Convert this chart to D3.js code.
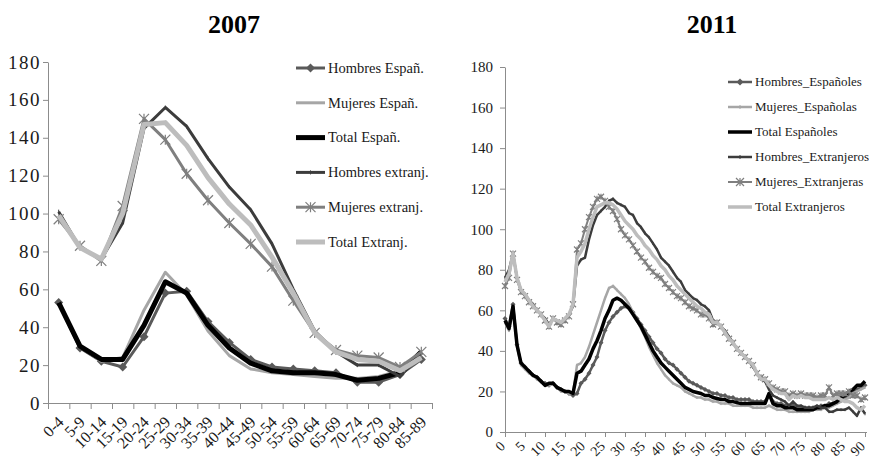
<!DOCTYPE html>
<html>
<head>
<meta charset="utf-8">
<script src="https://cdn.jsdelivr.net/npm/d3@7"></script>
<style>
    body { margin: 0; background: #fff; }
    svg { display: block; }
    svg text { font-family: "Liberation Serif", "Times New Roman", serif; }
    .axis path, .axis line { stroke: #8c8c8c; stroke-width: 1; }
    .axis text { fill: #1a1a1a; }
</style>
</head>
<body>
<svg width="869" height="460"></svg>
<script>

//==========================================================================
// Data, 2007 (age groups).

var ageGroups07 = ['0-4', '5-9', '10-14', '15-19', '20-24', '25-29', '30-34', '35-39', '40-44',
    '45-49', '50-54', '55-59', '60-64', '65-69', '70-74', '75-79', '80-84', '85-89'];

var hombresEsp07  = [53, 29, 22, 19, 35, 58, 59, 43, 32, 23, 19, 18, 17, 16, 11, 11, 15, 23];
var mujeresEsp07  = [53, 30, 22, 24, 49, 69, 57, 38, 25, 18, 16, 15, 14, 13, 13, 14, 17, 24];
var totalEsp07    = [53, 30, 23, 23, 41, 64, 58, 41, 29, 21, 17, 16, 16, 15, 12, 13, 16, 27];
var hombresExt07  = [101, 82, 76, 95, 145, 156, 146, 129, 114, 102, 84, 60, 38, 27, 20, 20, 14, 26];
var mujeresExt07  = [97, 83, 75, 104, 150, 139, 121, 107, 95, 84, 72, 54, 37, 28, 25, 24, 19, 27];
var totalExt07    = [99, 82, 76, 100, 147, 148, 136, 119, 105, 94, 77, 58, 37, 27, 23, 22, 17, 24];

var names07 = ['Hombres Españ.', 'Mujeres Españ.', 'Total Españ.', 'Hombres extranj.', 'Mujeres extranj.', 'Total Extranj.'];

//==========================================================================
// Data, 2011 (single years of age).

var ages11 = [0, 1, 2, 3, 4, 5, 6, 7, 8, 9, 10, 11, 12, 13, 14, 15, 16, 17, 18, 19,
    20, 21, 22, 23, 24, 25, 26, 27, 28, 29, 30, 31, 32, 33, 34, 35, 36, 37, 38, 39,
    40, 41, 42, 43, 44, 45, 46, 47, 48, 49, 50, 51, 52, 53, 54, 55, 56, 57, 58, 59,
    60, 61, 62, 63, 64, 65, 66, 67, 68, 69, 70, 71, 72, 73, 74, 75, 76, 77, 78, 79,
    80, 81, 82, 83, 84, 85, 86, 87, 88, 89, 90];

var hombresEsp11 = [56, 52, 63, 43, 34, 32, 30, 28, 27, 25, 24, 23, 24, 22, 21, 20, 19, 18, 19, 24,
    26, 29, 33, 37, 44, 50, 54, 57, 59, 61, 62, 61, 59, 56, 53, 50, 47, 44, 41, 39,
    36, 34, 33, 31, 29, 27, 25, 24, 23, 22, 21, 20, 19, 19, 18, 18, 17, 17, 16, 16,
    16, 16, 15, 15, 15, 15, 18, 15, 14, 14, 13, 13, 13, 12, 12, 12, 12, 12, 12, 13,
    13, 14, 14, 15, 16, 17, 18, 20, 21, 22, 23];
var mujeresEsp11 = [54, 50, 62, 42, 33, 31, 29, 28, 26, 25, 23, 23, 24, 22, 20, 20, 19, 19, 33, 34,
    37, 42, 48, 54, 60, 66, 71, 72, 70, 68, 66, 63, 59, 55, 51, 47, 42, 38, 34, 31,
    28, 26, 24, 23, 22, 20, 19, 18, 17, 17, 16, 16, 15, 15, 14, 14, 14, 13, 13, 13,
    13, 13, 12, 12, 12, 12, 13, 12, 11, 11, 11, 10, 10, 10, 10, 10, 10, 11, 11, 11,
    12, 12, 13, 14, 15, 16, 17, 19, 20, 21, 22];
var totalEsp11 = [55, 51, 62, 43, 34, 32, 30, 28, 27, 25, 23, 24, 24, 22, 21, 20, 20, 19, 29, 30,
    33, 36, 41, 45, 50, 56, 60, 65, 66, 65, 63, 61, 58, 55, 52, 48, 44, 40, 37, 34,
    32, 30, 28, 26, 24, 22, 21, 20, 19.5, 19, 18, 18, 17, 16.5, 16, 16, 15, 15, 14.5, 14,
    14, 14, 14, 14, 14, 14, 19, 14, 13, 13, 12, 12, 12, 11, 11, 11, 11, 11, 12, 12,
    13, 13, 14, 15, 17, 18, 20, 21, 23, 23, 25];
var hombresExt11 = [76, 80, 88, 76, 70, 68, 65, 63, 60, 58, 56, 53, 56, 55, 54, 56, 58, 62, 82, 85,
    86, 95, 102, 107, 109, 111, 114, 115, 113, 112, 111, 108, 107, 103, 101, 98, 96, 93, 90, 86,
    84, 82, 79, 76, 74, 70, 68, 66, 65, 63, 62, 60, 55, 54, 52, 50, 47, 44, 41, 39,
    37, 35, 32, 29, 26, 25, 21, 18, 17, 16, 15, 13, 15, 13, 13, 12, 12, 12, 13, 12,
    12, 10, 10, 11, 11, 11, 12, 10, 8, 12, 9];
var mujeresExt11 = [72, 76, 88, 75, 69, 67, 64, 62, 60, 58, 55, 52, 56, 54, 53, 55, 57, 63, 90, 93,
    100, 106, 111, 115, 116, 114, 111, 109, 105, 100, 97, 95, 92, 89, 86, 84, 81, 79, 77, 76,
    73, 71, 69, 67, 66, 64, 62, 61, 60, 58, 58, 56, 53, 54, 52, 49, 46, 44, 41, 39,
    37, 35, 33, 29, 27, 26, 24, 22, 21, 20, 20, 18, 19, 18, 19, 18, 18, 18, 17, 18,
    18, 22, 18, 19, 19, 19, 20, 18, 18, 16, 17];
var totalExt11 = [74, 78, 88, 76, 70, 68, 65, 62, 60, 58, 55, 52, 56, 55, 54, 56, 58, 63, 86, 89,
    93, 100, 106, 111, 112, 113, 113, 112, 110, 107, 104, 102, 100, 97, 95, 92, 90, 87, 85, 82,
    80, 77, 75, 72, 70, 68, 66, 64, 62, 61, 59, 58, 54, 54, 52, 49, 46, 44, 41, 39,
    37, 35, 33, 29, 26, 26, 23, 21, 20, 19, 19, 16, 18, 17, 18, 17, 17, 16, 16, 16,
    16, 17, 16, 17, 16, 15, 15, 14, 12, 11, 13];

var names11 = ['Hombres_Españoles', 'Mujeres_Españolas', 'Total Españoles', 'Hombres_Extranjeros', 'Mujeres_Extranjeras', 'Total Extranjeros'];

var yTicks = [0, 20, 40, 60, 80, 100, 120, 140, 160, 180];
var xTicks11 = [0, 5, 10, 15, 20, 25, 30, 35, 40, 45, 50, 55, 60, 65, 70, 75, 80, 85, 90];


//==========================================================================
// Styles (same order as the series).

var serif = '"Liberation Serif", "Times New Roman", serif';
var colors = ['#5a5a5a', '#a6a6a6', '#000000', '#3c3c3c', '#7f7f7f', '#bdbdbd'];
var markers = ['diamond', 'tick', null, 'tick', 'asterisk', null];
var widths07 = [3, 3, 5, 3, 3, 5];
var widths11 = [2.5, 2.5, 3.5, 2.5, 2, 3.5];

var svg = d3.select('svg');

function drawMarker(g, type, x, y, s, color) {
    if (!s) {
        return;
    }
    if (type === 'diamond') {
        g.append('path')
            .attr('d', 'M' + x + ',' + (y - s) + 'L' + (x + s) + ',' + y + 'L' + x + ',' + (y + s) + 'L' + (x - s) + ',' + y + 'Z')
            .style('fill', color)
        ;
    } else if (type === 'tick') {
        g.append('line')
            .attr('x1', x).attr('x2', x)
            .attr('y1', y - s).attr('y2', y + s)
            .style('stroke', color)
            .style('stroke-width', 1)
        ;
    } else if (type === 'asterisk') {
        var d = 'M' + x + ',' + (y - s) + 'L' + x + ',' + (y + s)
            + 'M' + (x - s) + ',' + (y - s) + 'L' + (x + s) + ',' + (y + s)
            + 'M' + (x - s) + ',' + (y + s) + 'L' + (x + s) + ',' + (y - s);
        g.append('path')
            .attr('d', d)
            .style('fill', 'none')
            .style('stroke', color)
            .style('stroke-width', 1.2)
        ;
    }
}

function drawSeries(g, xs, values, xFn, yScale, i, widths, markerSize) {
    var line = d3.line()
        .x(function(d, j) { return xFn(xs[j]); })
        .y(function(d) { return yScale(d); })
    ;
    g.append('path')
        .datum(values)
        .attr('d', line)
        .style('fill', 'none')
        .style('stroke', colors[i])
        .style('stroke-width', widths[i])
        .style('stroke-linejoin', 'round')
    ;
    if (markers[i]) {
        values.forEach(function(v, j) {
            drawMarker(g, markers[i], xFn(xs[j]), yScale(v), markerSize[i], colors[i]);
        });
    }
}

function drawLegend(g, names, x, y0, step, len, widths, markerSize, fontSize) {
    names.forEach(function(name, i) {
        var y = y0 + step * i;
        g.append('line')
            .attr('x1', x).attr('x2', x + len)
            .attr('y1', y).attr('y2', y)
            .style('stroke', colors[i])
            .style('stroke-width', widths[i])
        ;
        if (markers[i]) {
            drawMarker(g, markers[i], x + len / 2, y, markerSize[i], colors[i]);
        }
        g.append('text')
            .attr('x', x + len + 3)
            .attr('y', y + fontSize * 0.33)
            .style('font-size', fontSize + 'px')
            .style('font-family', serif)
            .style('fill', '#1a1a1a')
            .text(name)
        ;
    });
}


//==========================================================================
// Left panel: 2007.

var x07 = d3.scaleBand()
    .domain(ageGroups07)
    .range([48, 432])
;
var y07 = d3.scaleLinear()
    .domain([0, 180])
    .range([403, 62])
;
var xCenter07 = function(d) { return x07(d) + x07.bandwidth() / 2; };

svg.append('text')
    .attr('x', 234)
    .attr('y', 33)
    .attr('text-anchor', 'middle')
    .style('font-size', '26px')
    .style('font-weight', 'bold')
    .style('font-family', serif)
    .text('2007')
;

var yAxis07 = svg.append('g')
    .attr('class', 'axis')
    .attr('transform', 'translate(48,0)')
    .call(d3.axisLeft(y07).tickValues(yTicks).tickSize(5).tickSizeOuter(0).tickPadding(2))
    .attr('font-family', serif)
;
yAxis07.selectAll('text')
    .style('font-size', '19px')
    .style('letter-spacing', '1.5px')
    .style('font-family', serif)
;

svg.append('g')
    .attr('class', 'axis')
    .attr('transform', 'translate(0,403)')
    .call(d3.axisBottom(d3.scaleLinear().domain([0, ageGroups07.length]).range([48, 432]))
        .ticks(ageGroups07.length).tickSize(6).tickSizeOuter(0).tickFormat(''))
;

svg.append('g')
    .selectAll('text')
    .data(ageGroups07)
    .enter()
    .append('text')
    .attr('transform', function(d) {
        return 'translate(' + (xCenter07(d) + 6) + ',423) rotate(-45)';
    })
    .attr('text-anchor', 'end')
    .style('font-size', '16px')
    .style('font-family', serif)
    .style('fill', '#1a1a1a')
    .text(function(d) { return d; })
;

var series07 = [hombresEsp07, mujeresEsp07, totalEsp07, hombresExt07, mujeresExt07, totalExt07];
var markerSize07 = [4.5, 0, 0, 2, 5, 0];
var plot07 = svg.append('g');
series07.forEach(function(values, i) {
    drawSeries(plot07, ageGroups07, values, xCenter07, y07, i, widths07, markerSize07);
});

drawLegend(svg.append('g'), names07, 296, 68, 34.8, 29, widths07, markerSize07, 14.5);


//==========================================================================
// Right panel: 2011.

var x11 = d3.scaleLinear()
    .domain([0, 90])
    .range([505, 865])
;
var y11 = d3.scaleLinear()
    .domain([0, 180])
    .range([432, 67])
;

svg.append('text')
    .attr('x', 712)
    .attr('y', 33)
    .attr('text-anchor', 'middle')
    .style('font-size', '26px')
    .style('font-weight', 'bold')
    .style('font-family', serif)
    .text('2011')
;

var yAxis11 = svg.append('g')
    .attr('class', 'axis')
    .attr('transform', 'translate(505,0)')
    .call(d3.axisLeft(y11).tickValues(yTicks).tickSize(5).tickSizeOuter(0).tickPadding(7))
    .attr('font-family', serif)
;
yAxis11.selectAll('text')
    .style('font-size', '15px')
    .style('font-family', serif)
;

var xAxis11 = svg.append('g')
    .attr('class', 'axis')
    .attr('transform', 'translate(0,432)')
    .call(d3.axisBottom(x11).tickValues(xTicks11).tickSize(5).tickSizeOuter(0).tickFormat(''))
;
xAxis11.select('.domain').attr('d', 'M505,0.5H867');

svg.append('g')
    .selectAll('text')
    .data(xTicks11)
    .enter()
    .append('text')
    .attr('transform', function(d) {
        return 'translate(' + (x11(d) + 1) + ',447) rotate(-45)';
    })
    .attr('text-anchor', 'end')
    .style('font-size', '14px')
    .style('font-family', serif)
    .style('fill', '#1a1a1a')
    .text(function(d) { return d; })
;

var series11 = [hombresEsp11, mujeresEsp11, totalEsp11, hombresExt11, mujeresExt11, totalExt11];
var markerSize11 = [2.5, 1.5, 0, 1.5, 3, 0];
var plot11 = svg.append('g');
series11.forEach(function(values, i) {
    drawSeries(plot11, ages11, values, x11, y11, i, widths11, markerSize11);
});

drawLegend(svg.append('g'), names11, 728, 82, 25, 24, widths11, [3.5, 2, 0, 2, 4, 0], 13);

</script>
</body>
</html>
